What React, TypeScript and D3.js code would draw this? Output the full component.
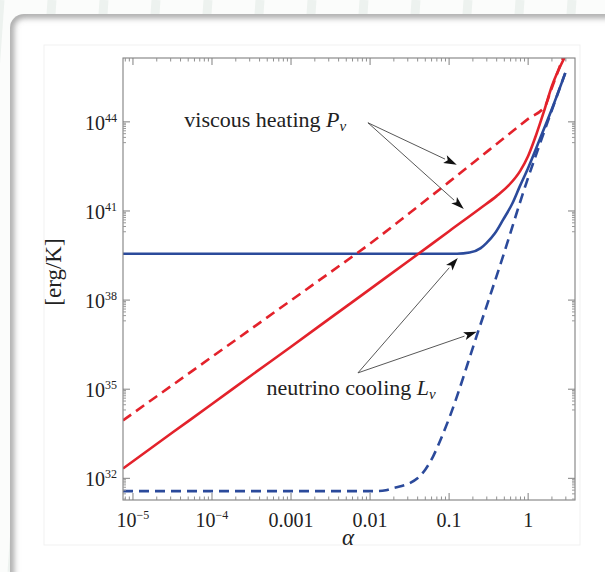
import React from 'react';
import * as d3 from 'd3';

const W = 605;
const H = 572;

// axis ticks
const xTickExps = [-5, -4, -3, -2, -1, 0];
const xTickBase = ['10', '10', '0.001', '0.01', '0.1', '1'];
const xTickSup = ['\u22125', '\u22124', '', '', '', ''];
const yTickExps = [32, 35, 38, 41, 44];

// series (log10 alpha, log10 value)
const redSolidLogA = [-5.126, -4.5, -4, -3.5, -3, -2.5, -2, -1.5, -1.0, -0.6, -0.4, -0.25, -0.1, 0.0, 0.1, 0.2, 0.3, 0.46];
const redSolidLogL = [32.33, 33.54, 34.5, 35.47, 36.43, 37.4, 38.37, 39.34, 40.32, 41.1, 41.5, 41.85, 42.35, 42.85, 43.55, 44.35, 45.2, 46.16];

const redDashLogA = [-5.126, -4.5, -4, -3.5, -3, -2.5, -2, -1.5, -1, -0.5, 0, 0.22, 0.28, 0.35, 0.5];
const redDashLogL = [33.95, 35.14, 36.09, 37.04, 37.99, 38.94, 39.9, 40.93, 41.98, 43.04, 44.1, 44.56, 45.0, 45.5, 46.6];

const blueSolidLogA = [-5.126, -4, -3, -2, -1.2, -0.9, -0.74, -0.6, -0.528, -0.42, -0.318, -0.2, -0.107, 0.0, 0.145, 0.313, 0.47];
const blueSolidLogL = [39.56, 39.56, 39.56, 39.56, 39.56, 39.56, 39.6, 39.75, 39.92, 40.25, 40.7, 41.25, 41.82, 42.45, 43.4, 44.52, 45.64];

const blueDashLogA = [-5.126, -4, -3, -2.2, -1.92, -1.8, -1.707, -1.6, -1.496, -1.4, -1.3, -1.2, -1.1, -0.991, -0.654, -0.318, -0.023, 0.145, 0.47];
const blueDashLogL = [31.57, 31.57, 31.57, 31.57, 31.57, 31.6, 31.67, 31.74, 31.84, 32.0, 32.3, 32.75, 33.35, 34.08, 36.77, 39.47, 41.94, 43.23, 45.65];

// annotations (log10 alpha, log10 value)
const pArrowFrom = [-2.027, 43.97];
const pArrowTips = [[-0.903, 42.56], [-0.814, 41.07]];
const lArrowFrom = [-2.153, 35.55];
const lArrowTips = [[-0.89, 39.42], [-0.65, 36.93]];
const pTextPos = [-4.35, 43.83];
const lTextPos = [-3.31, 34.81];

const RED = '#e3222b';
const BLUE = '#2b4a9b';

const plot = { left: 123, right: 575, top: 58, bottom: 500 };

export default function App() {
  const x = d3.scaleLog().domain([10 ** -5.126, 10 ** 0.593]).range([plot.left, plot.right]);
  const y = d3.scaleLog().domain([10 ** 31.27, 10 ** 46.15]).range([plot.bottom, plot.top]);

  const X = (la: number) => x(10 ** la);
  const Y = (ll: number) => y(10 ** ll);

  const mkLine = (la: number[], ll: number[]) =>
    d3.line<number>().x((_, i) => X(la[i])).y((_, i) => Y(ll[i])).curve(d3.curveMonotoneX)(la.map((_, i) => i)) || '';

  const xMinor: number[] = [];
  for (let n = -6; n <= 0; n++) for (let k = 2; k <= 9; k++) {
    const v = k * 10 ** n;
    if (v > x.domain()[0] && v < x.domain()[1]) xMinor.push(v);
  }
  const yMinor: number[] = [];
  yTickExps.forEach((e) => { for (let k = 2; k <= 9; k++) yMinor.push(k * 10 ** (e - 1)); });

  const arrow = (from: number[], to: number[], key: string) => {
    const x1 = X(from[0]), y1 = Y(from[1]), x2 = X(to[0]), y2 = Y(to[1]);
    const ang = Math.atan2(y2 - y1, x2 - x1);
    const L = 13, w = 4.2;
    const bx = x2 - L * Math.cos(ang), by = y2 - L * Math.sin(ang);
    const px = -Math.sin(ang) * w, py = Math.cos(ang) * w;
    const nx = x2 - (L - 3) * Math.cos(ang), ny = y2 - (L - 3) * Math.sin(ang);
    return (
      <g key={key}>
        <line x1={x1} y1={y1} x2={bx} y2={by} stroke="#444" strokeWidth={0.9} />
        <path d={`M${x2},${y2}L${bx + px},${by + py}L${nx},${ny}L${bx - px},${by - py}Z`} fill="#111" />
      </g>
    );
  };

  const stripes = d3.range(-4, 14).map((i) => i * 52);

  return (
    <svg width={W} height={H} style={{ position: 'absolute', left: 0, top: 0 }} fontFamily="'Liberation Serif', 'Times New Roman', serif">
      <defs>
        <clipPath id="card"><rect x={10} y={14} width={640} height={600} rx={14} /></clipPath>
        <clipPath id="plotclip"><rect x={plot.left} y={plot.top} width={plot.right - plot.left} height={plot.bottom - plot.top} /></clipPath>
        <filter id="blur" x="-10%" y="-10%" width="120%" height="120%"><feGaussianBlur stdDeviation={3} /></filter>
      </defs>
      <rect width={W} height={H} fill="#fbfcfb" />
      {stripes.map((s) => (
        <line key={s} x1={s} y1={0} x2={s - 40} y2={H} stroke="#edf2ef" strokeWidth={9} />
      ))}
      <rect x={10} y={14} width={640} height={600} rx={14} fill="#fff" />
      <rect x={10} y={14} width={640} height={600} rx={14} fill="none" stroke="#9a9a9a" strokeWidth={7} filter="url(#blur)" clipPath="url(#card)" />
      <rect x={44} y={45} width={536} height={500} fill="#fff" stroke="#f1f1f1" strokeWidth={1} />

      {/* curves */}
      <g clipPath="url(#plotclip)" fill="none" strokeWidth={2.6}>
        <path d={mkLine(blueSolidLogA, blueSolidLogL)} stroke={BLUE} />
        <path d={mkLine(blueDashLogA, blueDashLogL)} stroke={BLUE} strokeDasharray="10,6" />
        <path d={mkLine(redSolidLogA, redSolidLogL)} stroke={RED} />
        <path d={mkLine(redDashLogA, redDashLogL)} stroke={RED} strokeDasharray="10,6" />
      </g>

      {/* frame */}
      <rect x={plot.left} y={plot.top} width={plot.right - plot.left} height={plot.bottom - plot.top} fill="none" stroke="#808080" strokeWidth={1.1} />

      {/* x ticks */}
      {xTickExps.map((e) => (
        <g key={'xt' + e}>
          <line x1={x(10 ** e)} x2={x(10 ** e)} y1={plot.bottom} y2={plot.bottom - 7} stroke="#808080" />
          <line x1={x(10 ** e)} x2={x(10 ** e)} y1={plot.top} y2={plot.top + 7} stroke="#808080" />
        </g>
      ))}
      {xMinor.map((v, i) => (
        <g key={'xm' + i}>
          <line x1={x(v)} x2={x(v)} y1={plot.bottom} y2={plot.bottom - 3.5} stroke="#909090" />
          <line x1={x(v)} x2={x(v)} y1={plot.top} y2={plot.top + 3.5} stroke="#909090" />
        </g>
      ))}
      {xTickExps.map((e, i) => (
        <text key={'xl' + e} x={x(10 ** e)} y={527} textAnchor="middle" fontSize={20} fill="#222">
          {xTickBase[i]}
          {xTickSup[i] && <tspan fontSize={12} dy={-8}>{xTickSup[i]}</tspan>}
        </text>
      ))}
      <text x={348} y={545} textAnchor="middle" fontSize={23} fontStyle="italic" fill="#222">α</text>

      {/* y ticks */}
      {yTickExps.map((e) => (
        <g key={'yt' + e}>
          <line x1={plot.left} x2={plot.left + 7} y1={y(10 ** e)} y2={y(10 ** e)} stroke="#808080" />
          <line x1={plot.right} x2={plot.right - 7} y1={y(10 ** e)} y2={y(10 ** e)} stroke="#808080" />
          <text x={117} y={y(10 ** e) + 8} textAnchor="end" fontSize={20} fill="#222">
            10<tspan fontSize={12} dy={-8}>{e}</tspan>
          </text>
        </g>
      ))}
      {yMinor.map((v, i) => (
        <g key={'ym' + i}>
          <line x1={plot.left} x2={plot.left + 3} y1={y(v)} y2={y(v)} stroke="#999" />
          <line x1={plot.right} x2={plot.right - 3} y1={y(v)} y2={y(v)} stroke="#999" />
        </g>
      ))}
      <text transform="translate(61,272) rotate(-90)" textAnchor="middle" fontSize={23} fill="#222">[erg/K]</text>

      {/* annotations */}
      {pArrowTips.map((t, i) => arrow(pArrowFrom, t, 'pa' + i))}
      {lArrowTips.map((t, i) => arrow(lArrowFrom, t, 'la' + i))}
      <text x={X(pTextPos[0])} y={Y(pTextPos[1])} fontSize={22} fill="#222">
        viscous heating <tspan fontStyle="italic">P</tspan><tspan fontStyle="italic" fontSize={15} dy={4}>ν</tspan>
      </text>
      <text x={X(lTextPos[0])} y={Y(lTextPos[1])} fontSize={22} fill="#222">
        neutrino cooling <tspan fontStyle="italic">L</tspan><tspan fontStyle="italic" fontSize={15} dy={4}>ν</tspan>
      </text>
    </svg>
  );
}
